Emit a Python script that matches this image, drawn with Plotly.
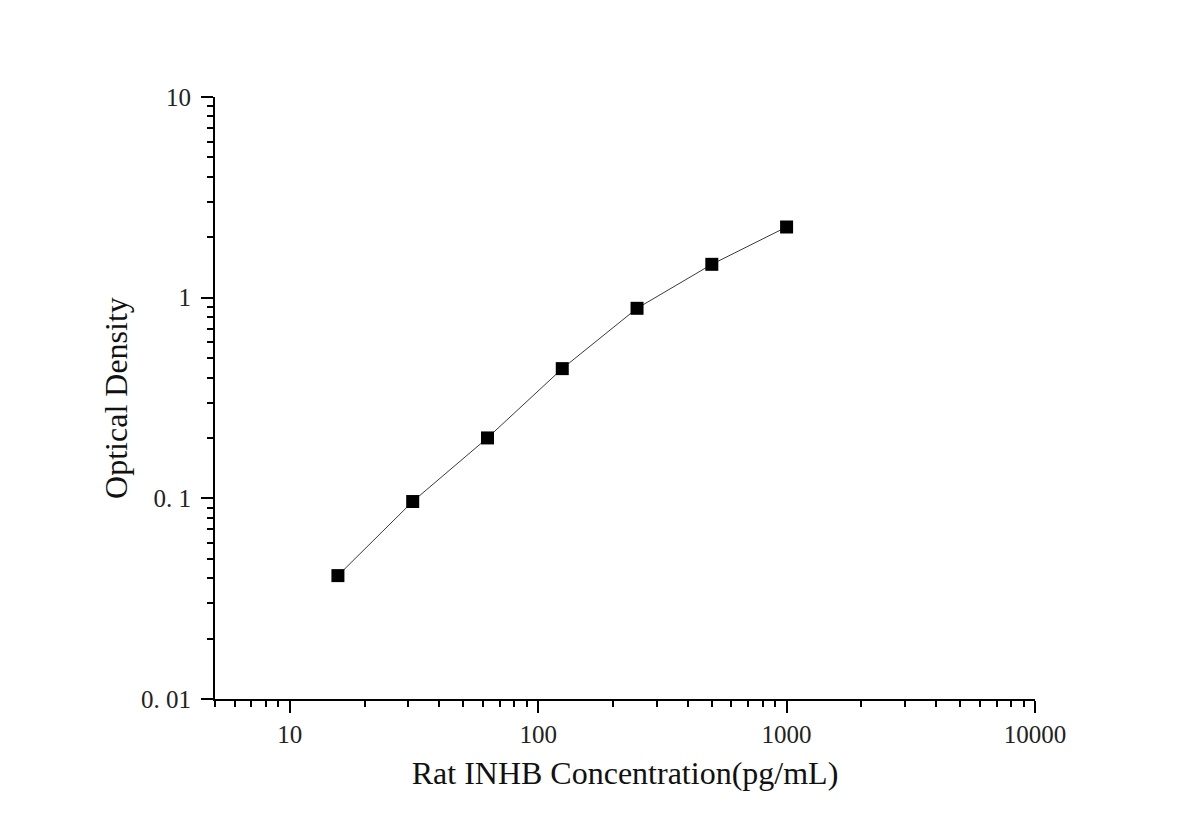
import plotly.graph_objects as go

concentration = [15.625, 31.25, 62.5, 125, 250, 500, 1000]
optical_density = [0.0412, 0.0964, 0.200, 0.443, 0.885, 1.466, 2.25]

x_tick_vals = [10, 100, 1000, 10000]
x_tick_text = ["10", "100", "1000", "10000"]
y_tick_vals = [0.01, 0.1, 1, 10]
y_tick_text = ["0. 01", "0. 1", "1", "10"]

FONT = "Liberation Serif, Times New Roman, serif"

fig = go.Figure()
fig.add_trace(go.Scatter(
    x=concentration, y=optical_density,
    mode="lines+markers",
    line=dict(color="#3a3a3a", width=1),
    marker=dict(symbol="square", size=13, color="black"),
    showlegend=False,
))

axis_common = dict(
    type="log",
    showgrid=False,
    zeroline=False,
    showline=True,
    linecolor="black",
    linewidth=2,
    ticks="outside",
    ticklen=12,
    tickwidth=2,
    tickcolor="black",
    tickfont=dict(family=FONT, size=25, color="#222"),
    minor=dict(ticks="outside", ticklen=6, tickwidth=2, tickcolor="black", dtick="D1", showgrid=False),
)

fig.update_xaxes(
    **axis_common,
    range=[0.69897, 4],
    tickvals=x_tick_vals,
    ticktext=x_tick_text,
    title=dict(text="Rat INHB Concentration(pg/mL)", font=dict(family=FONT, size=32, color="#111"), standoff=15),
)
fig.update_yaxes(
    **axis_common,
    range=[-2, 1],
    tickvals=y_tick_vals,
    ticktext=y_tick_text,
    ticklabelstandoff=5,
    title=dict(text="Optical Density", font=dict(family=FONT, size=32, color="#111"), standoff=4),
)

fig.update_layout(
    width=1200, height=838,
    margin=dict(l=207, r=173, t=89, b=147),
    paper_bgcolor="white",
    plot_bgcolor="white",
)

fig.write_html("out.html")
